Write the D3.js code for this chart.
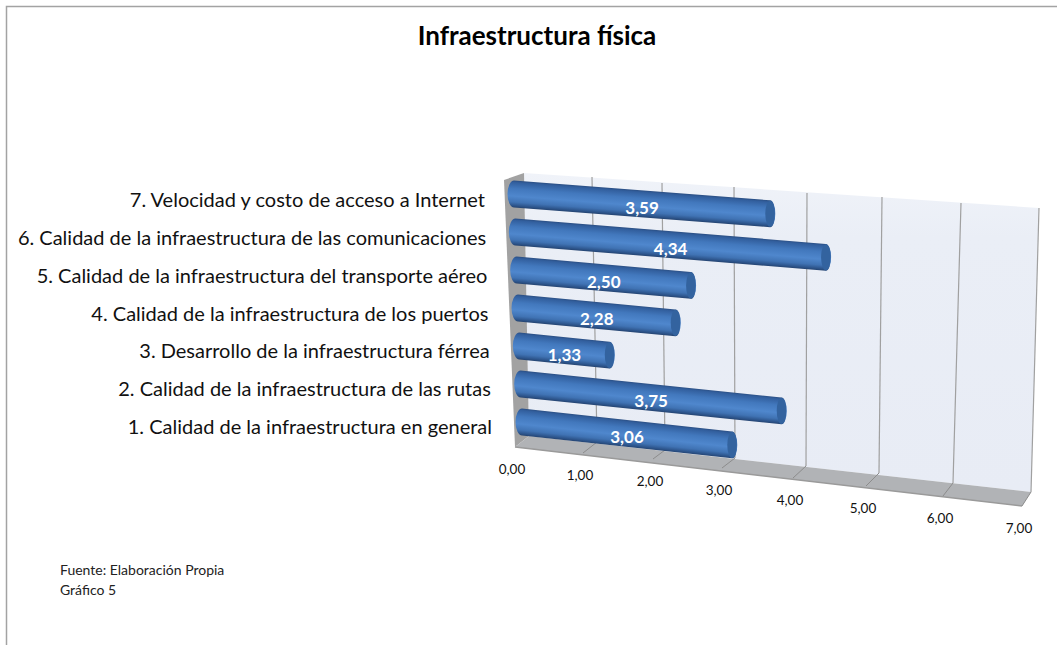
<!DOCTYPE html>
<html><head><meta charset="utf-8">
<script src="https://cdn.jsdelivr.net/npm/d3@7"></script>
<style>html,body{margin:0;padding:0;background:#fff}svg{display:block}text{font-family:Lato,Carlito,sans-serif}</style>
</head><body><div id="c"></div>
<script>
const categories = [
 "7. Velocidad y costo de acceso a Internet",
 "6. Calidad de la infraestructura de las comunicaciones",
 "5. Calidad de la infraestructura del transporte aéreo",
 "4. Calidad de la infraestructura de los puertos",
 "3. Desarrollo de la infraestructura férrea",
 "2. Calidad de la infraestructura de las rutas",
 "1. Calidad de la infraestructura en general"];
const values = [3.59,4.34,2.50,2.28,1.33,3.75,3.06];
const tickValues = [0,1,2,3,4,5,6,7];
const tickLabels = ["0,00","1,00","2,00","3,00","4,00","5,00","6,00","7,00"];
const titleText = "Infraestructura física";
const notes = ["Fuente: Elaboración Propia","Gráfico 5"];

const W=1057,H=645;
const svg=d3.select("#c").append("svg").attr("width",W).attr("height",H);
const defs=svg.append("defs");
const ln=(a,b)=>"M"+a[0]+","+a[1]+"L"+b[0]+","+b[1];
const poly=p=>"M"+p.map(q=>q.join(",")).join("L")+"Z";

// perspective edges of the 3D box, value -> pixel
const edge=(xs,ys)=>[d3.scaleLinear().domain(tickValues).range(xs),d3.scaleLinear().domain(tickValues).range(ys)];
const wallTop=edge([524,592,662,734,807,882,961,1039],[173,177,183,187,193,197,203,208]);
const wallBot=edge([529,597,665,735,806,879,953,1031],[436,442,450,458,466,473,483,492]);
const floorFront=edge([515,583,653,722,793,866,943,1022],[447,453,459,468,478,486,496,506]);
const at=(e,v)=>[e[0](v),e[1](v)];

// frame
svg.append("path").attr("d","M6.5,645V6.5H1057").attr("fill","none").attr("stroke","#a3a3a3").attr("stroke-width",1.5);

// back wall
const wg=defs.append("linearGradient").attr("id","wall").attr("x1",0).attr("y1",0).attr("x2",0).attr("y2",1);
wg.append("stop").attr("offset",0).attr("stop-color","#f0f3f9");
wg.append("stop").attr("offset",.2).attr("stop-color","#eaeef6");
wg.append("stop").attr("offset",1).attr("stop-color","#e8ecf5");
svg.append("path").attr("d",poly([at(wallTop,0),at(wallTop,7),at(wallBot,7),at(wallBot,0)])).attr("fill","url(#wall)");
// side wall
svg.append("path").attr("d",poly([[504,180],at(wallTop,0),at(wallBot,0),at(floorFront,0)])).attr("fill","#a2a2a2");
// floor
svg.append("path").attr("d",poly([at(wallBot,0),at(wallBot,7),at(floorFront,7),at(floorFront,0)])).attr("fill","#b1b3b6");
svg.append("path").attr("d",ln(at(floorFront,0),at(floorFront,7))).attr("stroke","#9a9a9a").attr("stroke-width",1.5);
// grid
svg.append("g").selectAll("path").data(tickValues.slice(1)).join("path")
 .attr("d",v=>ln(at(wallTop,v),at(wallBot,v))).attr("stroke","#a0a0a0").attr("stroke-width",1.2).attr("fill","none");
svg.append("g").selectAll("path").data(tickValues.slice(1)).join("path")
 .attr("d",v=>ln(at(wallBot,v),at(floorFront,v))).attr("stroke","#8c8c8c").attr("stroke-width",1).attr("fill","none");

// bars: mid-depth plane
const rowY=d3.scalePoint().domain(categories).range([194,422]);
const rowT=d3.scalePoint().domain(categories).range([0,1]);
const startX=d3.scaleLinear().domain([0,1]).range([514,522]);
const spanX=d3.scaleLinear().domain(tickValues).range([0,68,138,210,283,358,436,515]);
const factor=d3.scaleLinear().domain([0,1]).range([1.012,0.98]);
const pxY=d3.scaleLinear().domain([0,1]).range([5.5,7.5]);
const proj=(c,v)=>{const t=rowT(c);return [startX(t)+spanX(v)*factor(t),rowY(c)+v*pxY(t)];};
const R=13.4,RX=5.2,RL=6.5;
const stops=[[0,"#2b4f84"],[.07,"#325f9e"],[.3,"#4278bd"],[.58,"#4f87cd"],[.8,"#4073b4"],[.93,"#2d558c"],[1,"#254471"]];
const bars=svg.append("g");
categories.forEach((c,i)=>{
  const v=values[i],a=proj(c,0),b=proj(c,v);
  const id="b"+i;
  const dx=b[0]-a[0],dy=b[1]-a[1],L=Math.hypot(dx,dy),nx=-dy/L,ny=dx/L;
  const g=defs.append("linearGradient").attr("id",id).attr("gradientUnits","userSpaceOnUse")
    .attr("x1",a[0]-nx*R).attr("y1",a[1]-ny*R).attr("x2",a[0]+nx*R).attr("y2",a[1]+ny*R);
  stops.forEach(s=>g.append("stop").attr("offset",s[0]).attr("stop-color",s[1]));
  const A=[a[0],a[1]-R],B=[b[0],b[1]-R],C=[b[0],b[1]+R],D=[a[0],a[1]+R];
  bars.append("path").attr("fill","url(#"+id+")")
   .attr("d",`M${A}L${B}A${RX},${R} 0 0 1 ${C}L${D}A${RL},${R} 0 0 1 ${A}Z`);
  bars.append("ellipse").attr("cx",b[0]).attr("cy",b[1]).attr("rx",RX-.4).attr("ry",R-.3)
   .attr("fill","#33639f");
});
// value labels
const mid=(c,i)=>{const a=proj(c,0),b=proj(c,values[i]);return [(a[0]+b[0])/2,(a[1]+b[1])/2];};
svg.append("g").selectAll("text").data(categories).join("text")
 .attr("x",(c,i)=>mid(c,i)[0]).attr("y",(c,i)=>mid(c,i)[1]+10).attr("text-anchor","middle")
 .attr("fill","#fff").attr("font-weight",700).attr("font-size",17)
 .text((c,i)=>values[i].toFixed(2).replace(".",","));

// category labels
const labelY=d3.scalePoint().domain(categories).range([207,434]);
const labelX=d3.scaleLinear().domain([0,1]).range([485,492]);
svg.append("g").selectAll("text").data(categories).join("text")
 .attr("x",c=>labelX(rowT(c))).attr("y",c=>labelY(c)).attr("text-anchor","end")
 .attr("fill","#111").attr("font-size",20).text(c=>c);

// value axis labels
svg.append("g").selectAll("text").data(tickValues).join("text")
 .attr("x",v=>floorFront[0](v)-3).attr("y",v=>floorFront[1](v)+26.5).attr("text-anchor","middle")
 .attr("fill","#111").attr("font-size",13.5).text((v,i)=>tickLabels[i]);

svg.append("text").attr("x",537).attr("y",45).attr("text-anchor","middle").attr("font-weight",700)
 .attr("font-size",26).attr("fill","#000").text(titleText);
svg.append("g").selectAll("text").data(notes).join("text").attr("x",60).attr("y",(d,i)=>575+i*20)
 .attr("font-size",14).attr("fill","#222").text(d=>d);
</script></body></html>
